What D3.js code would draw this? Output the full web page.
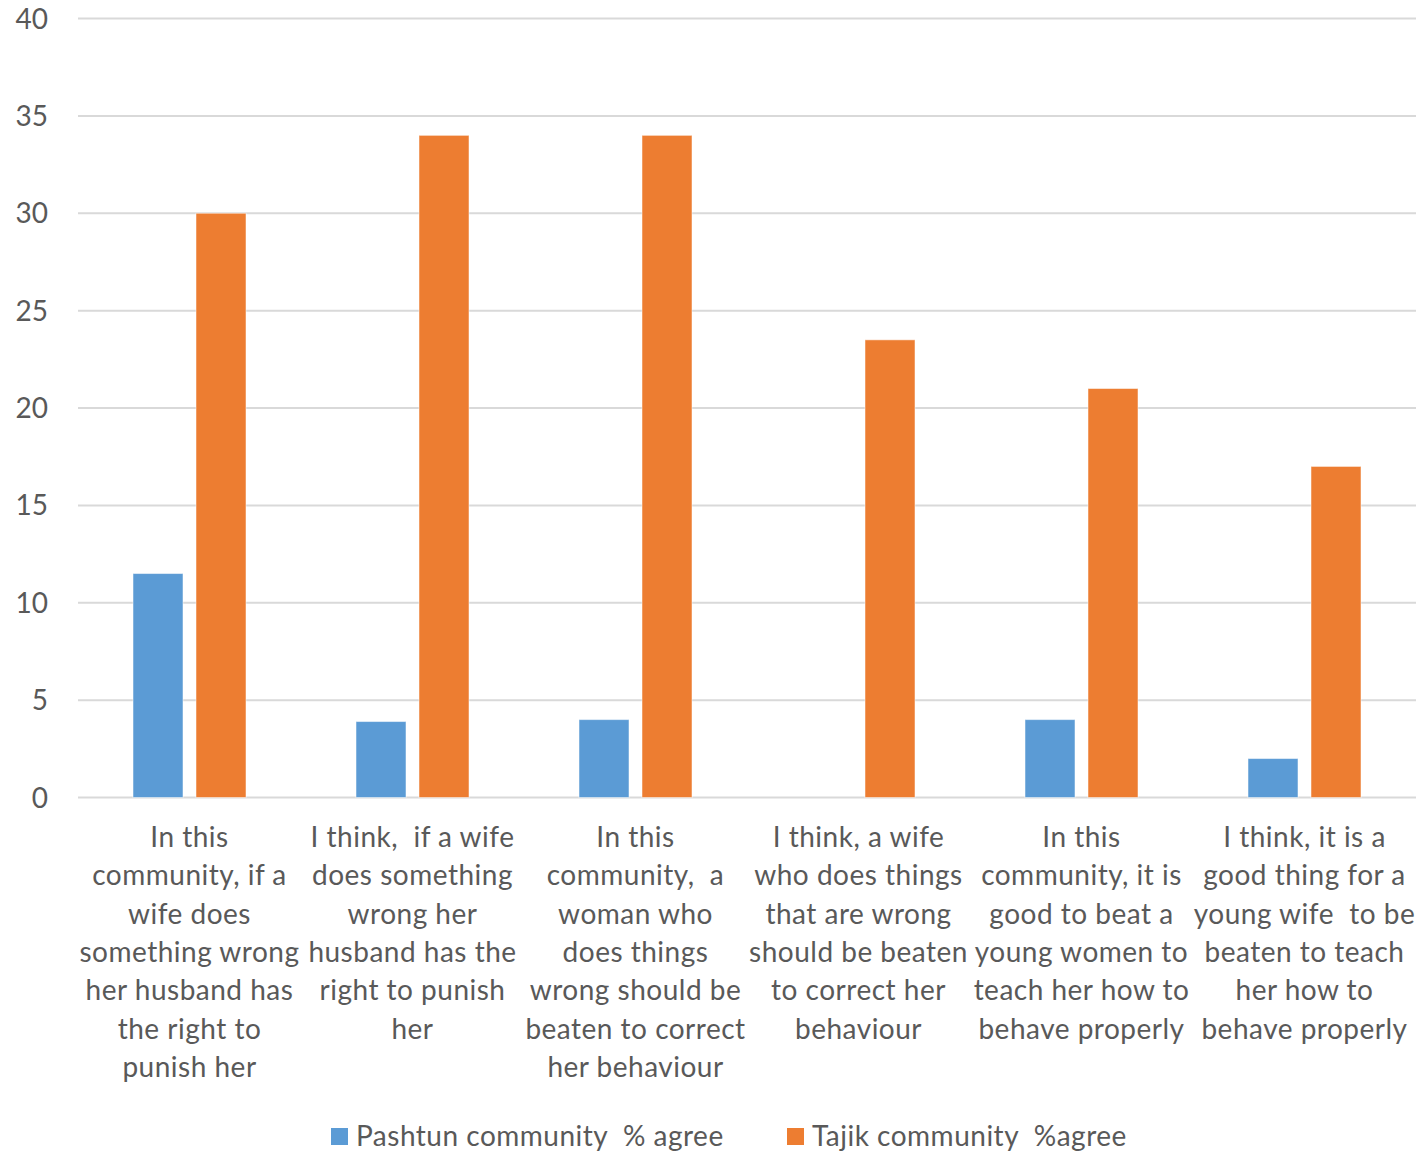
<!DOCTYPE html>
<html><head><meta charset="utf-8">
<script src="https://cdn.jsdelivr.net/npm/d3@7"></script>
<style>body{margin:0;background:#fff}svg{display:block}text{font-family:Lato,"Open Sans",sans-serif;fill:#595959;white-space:pre}</style>
</head><body>
<svg id="c" width="1419" height="1152"></svg>
<script>
const categories = [
  ["In this","community, if a","wife does","something wrong","her husband has","the right to","punish her"],
  ["I think,  if a wife","does something","wrong her","husband has the","right to punish","her"],
  ["In this","community,  a","woman who","does things","wrong should be","beaten to correct","her behaviour"],
  ["I think, a wife","who does things","that are wrong","should be beaten","to correct her","behaviour"],
  ["In this","community, it is","good to beat a","young women to","teach her how to","behave properly"],
  ["I think, it is a","good thing for a","young wife  to be","beaten to teach","her how to","behave properly"]
];
const pashtun = [11.5, 3.9, 4, 0, 4, 2];
const tajik = [30, 34, 34, 23.5, 21, 17];
const yTicks = [0,5,10,15,20,25,30,35,40];
const seriesNames = ["Pashtun community  % agree","Tajik community  %agree"];
const colors = ["#5b9bd5","#ed7d31"];

const svg = d3.select("#c");
const L=78, R=1416, T=18.5, B=797.5;
const x = d3.scaleBand().domain(d3.range(categories.length)).range([L,R]).paddingInner(0).paddingOuter(0);
const y = d3.scaleLinear().domain([0,40]).range([B,T]);
const bw = x.bandwidth();
const barW = 50, gap = 13;

svg.append("g").selectAll("line").data(yTicks).join("line")
  .attr("x1",L).attr("x2",R).attr("y1",d=>y(d)).attr("y2",d=>y(d))
  .attr("stroke","#d9d9d9").attr("stroke-width",2);

const yAxis = d3.axisLeft(y).tickValues(yTicks).tickSize(0).tickPadding(0);
const ga = svg.append("g").attr("transform","translate(48,0)").call(yAxis);
ga.select(".domain").remove();
ga.selectAll("text").style("font-size","28px").attr("fill","#595959").attr("font-family","Lato, sans-serif").attr("dy","0.34em");

const g = svg.append("g");
[pashtun,tajik].forEach((vals,si)=>{
  g.selectAll(".s"+si).data(vals).join("rect")
    .attr("x",(d,i)=> x(i)+bw/2 + (si===0 ? -gap/2-barW : gap/2))
    .attr("width",barW)
    .attr("y",d=>y(d)).attr("height",d=>y(0)-y(d))
    .attr("fill",colors[si])
    .attr("stroke",d=>d>0?"#ffffff":"none").attr("stroke-opacity",0.5).attr("stroke-width",1);
});

const cl = svg.append("g");
categories.forEach((lines,i)=>{
  const t = cl.append("text").attr("text-anchor","middle").style("font-size","28px").style("letter-spacing","0.5px");
  lines.forEach((ln,j)=>{
    t.append("tspan").attr("x",x(i)+bw/2).attr("y",847+j*38.3).text(ln);
  });
});

const leg = svg.append("g");
const lx=[331,787];
seriesNames.forEach((n,i)=>{
  leg.append("rect").attr("x",lx[i]).attr("y",1128).attr("width",17).attr("height",17).attr("fill",colors[i]);
  leg.append("text").attr("x",lx[i]+25).attr("y",1146).style("font-size","28px").style("letter-spacing","0.5px").text(n);
});
</script>
</body></html>
